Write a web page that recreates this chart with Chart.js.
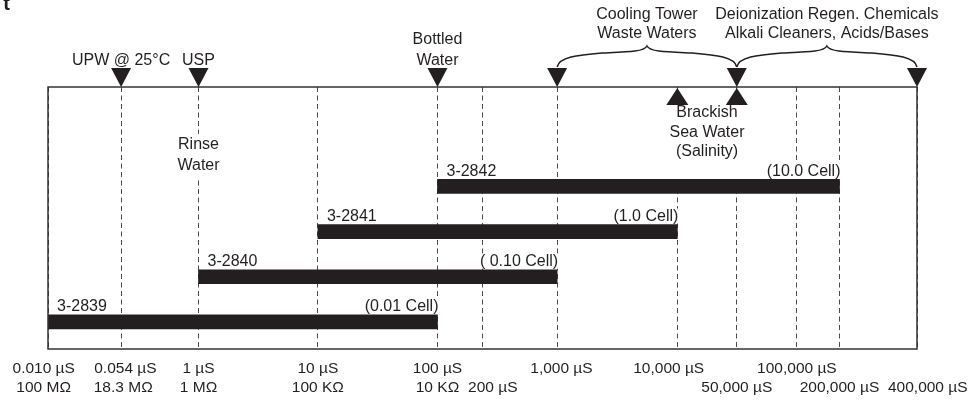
<!DOCTYPE html>
<html lang="en">
<head>
<meta charset="utf-8">
<title>Conductivity sensor ranges</title>
<script src="https://cdn.jsdelivr.net/npm/chart.js@4/dist/chart.umd.min.js"></script>
<style>
  body { margin:0; background:#fff; }
  #wrap { width:971px; height:402px; position:relative; }
</style>
</head>
<body>
<div id="wrap"><canvas id="chart"></canvas></div>
<script>
// axis ticks (µS) and their two-line labels (spaces nudge the crowded ones like the print)
const tickValues = [0.01, 0.054, 1, 10, 100, 200, 1000, 10000, 50000, 100000, 200000, 400000];
const tickLabels = [
  ['0.010 µS  ', '100 MΩ  '], ['  0.054 µS', ' 18.3 MΩ'], ['1 µS', '1 MΩ'], ['10 µS', '100 KΩ'],
  ['100 µS', '10 KΩ'], ['', '     200 µS'], ['  1,000 µS', ''], ['10,000 µS    ', ''],
  ['', '50,000 µS'], ['100,000 µS', ''], ['', '200,000 µS'], ['', '     400,000 µS']
];

// sensor ranges, top row first
const sensors = ['3-2842', '3-2841', '3-2840', '3-2839'];
const cellNames = ['(10.0 Cell)', '(1.0 Cell)', '( 0.10 Cell)', '(0.01 Cell)'];
const rangeLow = [100, 10, 1, 0.01];
const rangeHigh = [200000, 10000, 1000, 100];

// markers above the plot
const markerValues = [0.054, 1, 100, 1000, 50000, 400000];
const markerLabels = [['UPW @ 25°C'], ['USP'], ['Bottled', 'Water'], [], [], []];
const braceFrom = [1000, 50000];
const braceTo = [50000, 400000];
const braceLabels = [['Cooling Tower', 'Waste Waters'], ['Deionization Regen. Chemicals', 'Alkali Cleaners, Acids/Bases']];
const upMarkerValues = [10000, 50000];
const upMarkerLabel = ['Brackish', 'Sea Water', '(Salinity)'];
const rinseValue = 1;
const rinseLabel = ['Rinse', 'Water'];

const INK = '#231f20';
const FAMILY = '"Liberation Sans", Arial, sans-serif';
const FONT = '16px ' + FAMILY;

// the printed axis is a hand-spaced log axis, so log10 is mapped piecewise between stops
class BrokenLogScale extends Chart.LogarithmicScale {
  _frac(v) {
    const s = this.options.stops;
    const lv = Math.log10(Math.max(v, s[0][0]));
    let i = 0;
    while (i < s.length - 2 && lv > Math.log10(s[i + 1][0])) i++;
    const a = Math.log10(s[i][0]), b = Math.log10(s[i + 1][0]);
    return s[i][1] + (s[i + 1][1] - s[i][1]) * (lv - a) / (b - a);
  }
  getPixelForValue(v) { return this.getPixelForDecimal(this._frac(v)); }
  getValueForPixel(p) {
    const d = this.getDecimalForPixel(p), s = this.options.stops;
    let i = 0;
    while (i < s.length - 2 && d > s[i + 1][1]) i++;
    const a = Math.log10(s[i][0]), b = Math.log10(s[i + 1][0]);
    return Math.pow(10, a + (b - a) * (d - s[i][1]) / (s[i + 1][1] - s[i][1]));
  }
}
BrokenLogScale.id = 'brokenlog';
BrokenLogScale.defaults = Chart.LogarithmicScale.defaults;
Chart.register(BrokenLogScale);

function textBg(ctx, str, x, y, align) {
  const w = ctx.measureText(str).width;
  const x0 = align === 'left' ? x : align === 'right' ? x - w : x - w / 2;
  ctx.fillStyle = '#fff';
  ctx.fillRect(x0 - 1, y - 8, w + 2, 15);
  ctx.fillStyle = INK;
  ctx.textAlign = align;
  ctx.fillText(str, x, y);
}

function tri(ctx, x, tipY, dir, w, h) {
  ctx.beginPath();
  ctx.moveTo(x, tipY);
  ctx.lineTo(x - w / 2, tipY - dir * h);
  ctx.lineTo(x + w / 2, tipY - dir * h);
  ctx.closePath();
  ctx.fill();
}

const decor = {
  id: 'decor',
  afterDatasetsDraw(chart) {
    const {ctx, chartArea: a, scales: {x}} = chart;
    const meta = chart.getDatasetMeta(0);
    ctx.save();
    ctx.font = FONT;
    ctx.textBaseline = 'middle';

    // model names and cell constants on each bar
    meta.data.forEach((bar, i) => {
      const y = bar.y - bar.height / 2 - 8;
      textBg(ctx, sensors[i], bar.base + 9, y, 'left');
      textBg(ctx, cellNames[i], bar.x + 1, y, 'right');
    });

    // rinse water label breaks the 1 µS line
    const rx = x.getPixelForValue(rinseValue);
    ctx.fillStyle = '#fff';
    ctx.fillRect(rx - 24, a.top + 47, 48, 46);
    ctx.fillStyle = INK;
    ctx.textAlign = 'center';
    rinseLabel.forEach((t, k) => ctx.fillText(t, rx, a.top + 58 + k * 21));

    // brackish / sea water block between the two up markers
    const u0 = x.getPixelForValue(upMarkerValues[0]), u1 = x.getPixelForValue(upMarkerValues[1]);
    const um = (u0 + u1) / 2;
    ctx.fillStyle = '#fff';
    ctx.fillRect(um - 42, a.top + 17, 84, 73);
    ctx.fillStyle = INK;
    upMarkerLabel.forEach((t, k) => ctx.fillText(t, um, a.top + 26 + k * 19.5));

    // frame
    ctx.strokeStyle = '#333';
    ctx.lineWidth = 1.5;
    ctx.strokeRect(a.left, a.top, a.right - a.left, a.bottom - a.top);

    // markers on the top edge
    ctx.fillStyle = INK;
    markerValues.forEach((v, i) => {
      const px = x.getPixelForValue(v);
      tri(ctx, px, a.top, 1, 20, 19);
      const lines = markerLabels[i];
      lines.forEach((t, k) => ctx.fillText(t, px, a.top - 26 - (lines.length - 1 - k) * 21));
    });
    upMarkerValues.forEach(v => tri(ctx, x.getPixelForValue(v), a.top + 1, -1, 22, 17));

    // curly braces grouping markers
    ctx.strokeStyle = INK;
    ctx.lineWidth = 1.5;
    braceFrom.forEach((v, i) => {
      const x1 = x.getPixelForValue(v), x2 = x.getPixelForValue(braceTo[i]);
      const mx = (x1 + x2) / 2, y0 = a.top - 20, yc = a.top - 41;
      ctx.beginPath();
      ctx.moveTo(x1, y0);
      ctx.bezierCurveTo(x1 + 2, y0 - 10, x1 + 20, y0 - 12, (x1 + mx) / 2, y0 - 14);
      ctx.bezierCurveTo(mx - 20, y0 - 15, mx - 3, y0 - 15, mx, yc);
      ctx.bezierCurveTo(mx + 3, y0 - 15, mx + 20, y0 - 15, (mx + x2) / 2, y0 - 14);
      ctx.bezierCurveTo(x2 - 20, y0 - 12, x2 - 2, y0 - 10, x2, y0);
      ctx.stroke();
      braceLabels[i].forEach((t, k) => ctx.fillText(t, mx, a.top - 72 + k * 19));
    });

    // cropped title remnant in the corner
    ctx.font = 'bold 20px ' + FAMILY;
    ctx.textAlign = 'right';
    ctx.textBaseline = 'alphabetic';
    ctx.fillText('t', 10, 10);
    ctx.restore();
  }
};

new Chart(document.getElementById('chart'), {
  type: 'bar',
  data: {
    datasets: [{
      data: sensors.map((s, i) => ({x: [rangeLow[i], rangeHigh[i]], y: i})),
      backgroundColor: INK,
      borderWidth: 0,
      barThickness: 14
    }]
  },
  options: {
    indexAxis: 'y',
    responsive: true,
    maintainAspectRatio: false,
    animation: false,
    layout: {padding: {top: 87, left: 48, right: 54, bottom: 5}},
    plugins: {legend: {display: false}, tooltip: {enabled: false}},
    scales: {
      x: {
        type: 'brokenlog',
        min: 0.01,
        max: 400000,
        stops: [[0.01, 0], [0.054, 0.0841], [1, 0.1732], [10, 0.3106], [100, 0.4482], [200, 0.4995],
                [1000, 0.5859], [10000, 0.7242], [50000, 0.7926], [100000, 0.8618], [200000, 0.9108], [400000, 1]],
        afterBuildTicks: s => { s.ticks = tickValues.map(v => ({value: v})); },
        afterFit: s => { s.height = 48; s.paddingLeft = 0; s.paddingRight = 0; },
        grid: {color: '#4a4a4a', lineWidth: 1, drawTicks: false},
        border: {display: false, dash: [5, 3.5]},
        ticks: {
          autoSkip: false, maxRotation: 0, minRotation: 0, padding: 10, color: INK,
          font: {family: FAMILY, size: 15.5, lineHeight: 1.23},
          callback: (v, i) => tickLabels[i]
        }
      },
      y: {type: 'linear', reverse: true, min: -2.2, max: 3.6, offset: false, display: false}
    }
  },
  plugins: [decor]
});
</script>
</body>
</html>
